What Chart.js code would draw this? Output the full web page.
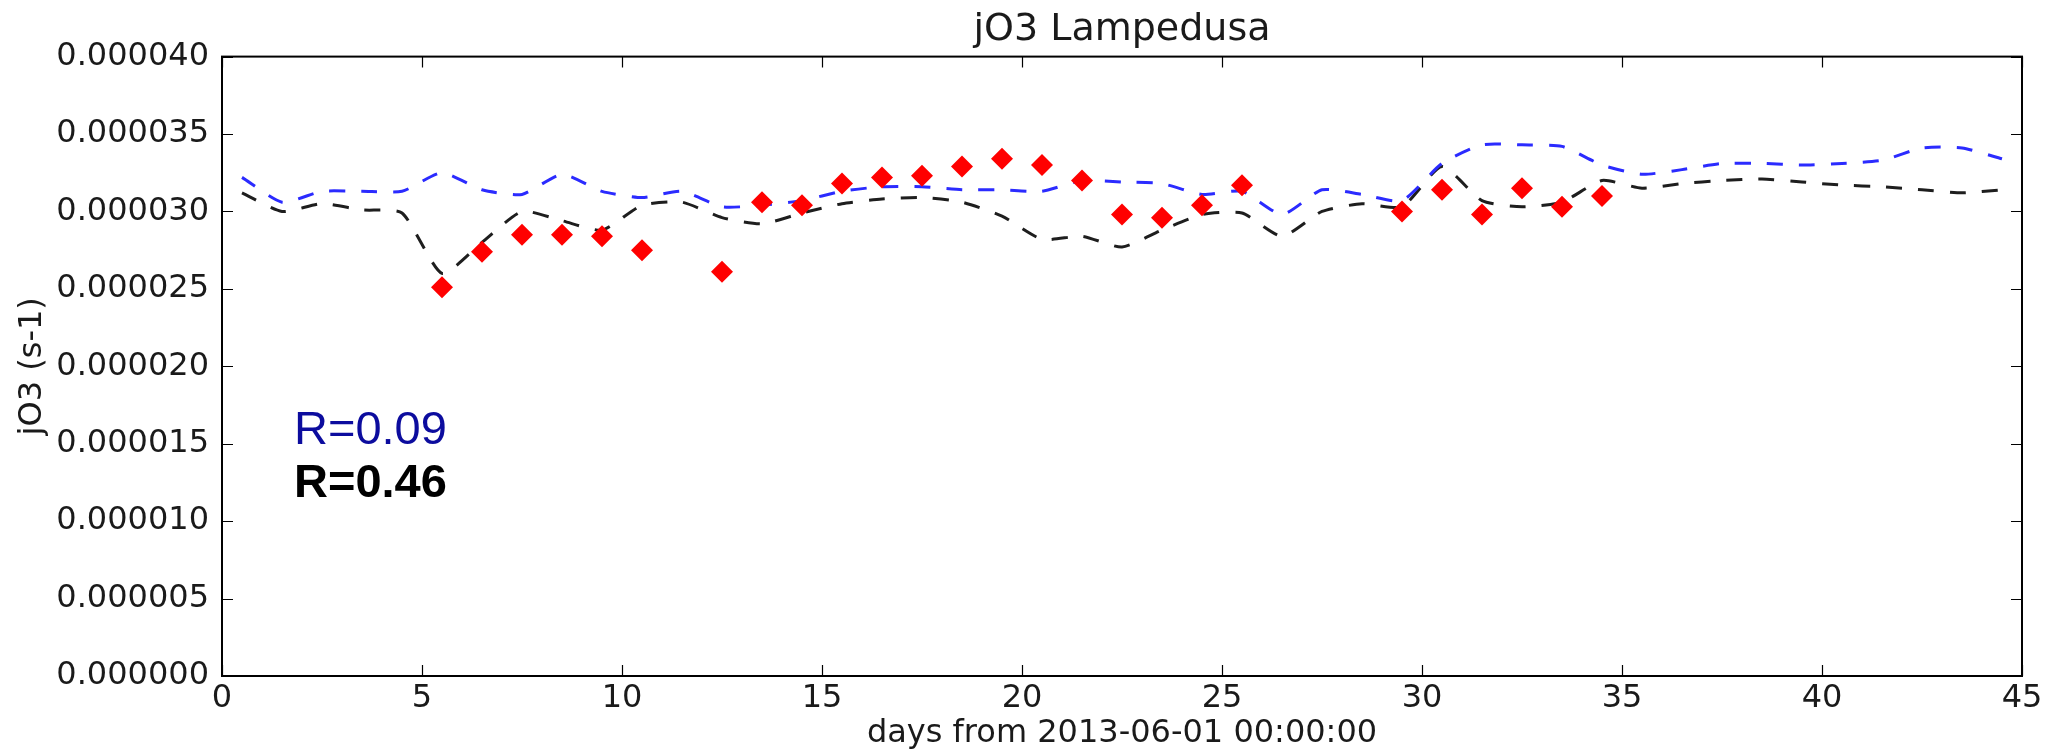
<!DOCTYPE html>
<html>
<head>
<meta charset="utf-8">
<title>jO3 Lampedusa</title>
<script src="https://cdn.jsdelivr.net/npm/chart.js@4.4.1/dist/chart.umd.min.js"></script>
<style>
  html, body { margin: 0; padding: 0; background: #fff; }
  #wrap { width: 2052px; height: 751px; }
</style>
</head>
<body>
<div id="wrap"><canvas id="jo3Chart" width="2052" height="751"></canvas></div>
<script>
// daily means, days counted from 2013-06-01 00:00:00
const modelDays = [0.5, 1.5, 2.5, 3.5, 4.5, 5.5, 6.5, 7.5, 8.5, 9.5,
    10.5, 11.5, 12.5, 13.5, 14.5, 15.5, 16.5, 17.5, 18.5, 19.5,
    20.5, 21.5, 22.5, 23.5, 24.5, 25.5, 26.5, 27.5, 28.5, 29.5,
    30.5, 31.5, 32.5, 33.5, 34.5, 35.5, 36.5, 37.5, 38.5, 39.5,
    40.5, 41.5, 42.5, 43.5, 44.5];

// blue dashed run (R=0.09)
const runBlue = [3.22e-5, 3.06e-5, 3.13e-5, 3.13e-5, 3.13e-5, 3.25e-5, 3.14e-5, 3.11e-5, 3.24e-5, 3.13e-5,
    3.09e-5, 3.13e-5, 3.03e-5, 3.04e-5, 3.07e-5, 3.13e-5, 3.16e-5, 3.16e-5, 3.14e-5, 3.14e-5,
    3.13e-5, 3.20e-5, 3.19e-5, 3.18e-5, 3.11e-5, 3.13e-5, 2.98e-5, 3.14e-5, 3.11e-5, 3.07e-5,
    3.31e-5, 3.43e-5, 3.43e-5, 3.42e-5, 3.30e-5, 3.24e-5, 3.27e-5, 3.31e-5, 3.31e-5, 3.30e-5,
    3.31e-5, 3.33e-5, 3.41e-5, 3.41e-5, 3.34e-5];

// black dashed run (R=0.46)
const runBlack = [3.12e-5, 3.00e-5, 3.05e-5, 3.01e-5, 2.99e-5, 2.60e-5, 2.80e-5, 3.00e-5, 2.94e-5, 2.88e-5,
    3.04e-5, 3.06e-5, 2.96e-5, 2.92e-5, 2.99e-5, 3.05e-5, 3.08e-5, 3.09e-5, 3.06e-5, 2.97e-5,
    2.82e-5, 2.84e-5, 2.77e-5, 2.88e-5, 2.98e-5, 2.99e-5, 2.84e-5, 3.00e-5, 3.05e-5, 3.03e-5,
    3.29e-5, 3.07e-5, 3.03e-5, 3.06e-5, 3.20e-5, 3.15e-5, 3.18e-5, 3.20e-5, 3.21e-5, 3.19e-5,
    3.17e-5, 3.16e-5, 3.14e-5, 3.12e-5, 3.14e-5];

// measured values (red diamonds)
const obsDays = [5.5, 6.5, 7.5, 8.5, 9.5, 10.5, 12.5, 13.5, 14.5, 15.5,
    16.5, 17.5, 18.5, 19.5, 20.5, 21.5, 22.5, 23.5, 24.5, 25.5,
    29.5, 30.5, 31.5, 32.5, 33.5, 34.5];
const obsValues = [2.51e-5, 2.74e-5, 2.85e-5, 2.85e-5, 2.84e-5, 2.75e-5, 2.61e-5, 3.06e-5, 3.04e-5, 3.18e-5,
    3.22e-5, 3.23e-5, 3.29e-5, 3.34e-5, 3.30e-5, 3.20e-5, 2.98e-5, 2.96e-5, 3.04e-5, 3.17e-5,
    3.00e-5, 3.14e-5, 2.98e-5, 3.15e-5, 3.03e-5, 3.10e-5];

const corrLabels = ["R=0.09", "R=0.46"];

const toPoints = (xs, ys) => xs.map((d, i) => ({ x: d, y: ys[i] }));

const tickFont = { family: "'DejaVu Sans', sans-serif", size: 32 };
const textColor = "#1a1a1a";

// matplotlib-style box: full frame with ticks pointing inward on all four sides
const boxFrame = {
    id: "boxFrame",
    afterDatasetsDraw(chart) {
        const { ctx, chartArea: a, scales: { x, y } } = chart;
        const len = 11;
        ctx.save();
        ctx.strokeStyle = "#000";
        ctx.lineWidth = 1.2;
        ctx.beginPath();
        x.ticks.forEach(t => {
            const px = Math.round(x.getPixelForValue(t.value)) + 0.5;
            ctx.moveTo(px, a.bottom); ctx.lineTo(px, a.bottom - len);
            ctx.moveTo(px, a.top); ctx.lineTo(px, a.top + len);
        });
        y.ticks.forEach(t => {
            const py = Math.round(y.getPixelForValue(t.value)) + 0.5;
            ctx.moveTo(a.left, py); ctx.lineTo(a.left + len, py);
            ctx.moveTo(a.right, py); ctx.lineTo(a.right - len, py);
        });
        ctx.stroke();
        ctx.lineWidth = 2;
        ctx.strokeRect(a.left, a.top, a.right - a.left, a.bottom - a.top);
        ctx.restore();
    }
};

// correlation coefficients written inside the axes
const corrText = {
    id: "corrText",
    afterDraw(chart) {
        const { ctx, scales: { x, y } } = chart;
        const px = x.getPixelForValue(1.8);
        ctx.save();
        ctx.textAlign = "left";
        ctx.textBaseline = "alphabetic";
        ctx.font = "47px 'Liberation Sans', Arial, sans-serif";
        ctx.fillStyle = "#0c0c9e";
        ctx.fillText(corrLabels[0], px, y.getPixelForValue(1.5e-5));
        ctx.font = "bold 47px 'Liberation Sans', Arial, sans-serif";
        ctx.fillStyle = "#000";
        ctx.fillText(corrLabels[1], px, y.getPixelForValue(1.155e-5));
        ctx.restore();
    }
};

new Chart(document.getElementById("jo3Chart").getContext("2d"), {
    type: "line",
    data: {
        datasets: [{
            label: "obs",
            data: toPoints(obsDays, obsValues),
            showLine: false,
            pointStyle: "rectRot",
            pointRadius: 11,
            pointBackgroundColor: "#ff0000",
            pointBorderWidth: 0
        }, {
            label: "run blue",
            data: toPoints(modelDays, runBlue),
            borderColor: "#2b2bff",
            borderWidth: 3,
            borderDash: [16, 16],
            pointRadius: 0,
            tension: 0.2,
            fill: false
        }, {
            label: "run black",
            data: toPoints(modelDays, runBlack),
            borderColor: "#1e1e1e",
            borderWidth: 3,
            borderDash: [16, 16],
            pointRadius: 0,
            tension: 0.2,
            fill: false
        }]
    },
    options: {
        responsive: false,
        animation: false,
        layout: { padding: { left: 0, right: 30, top: 0, bottom: 0 } },
        plugins: {
            legend: { display: false },
            tooltip: { enabled: false },
            title: {
                display: true,
                fullSize: false,
                text: "jO3 Lampedusa",
                color: textColor,
                font: { family: "'DejaVu Sans', sans-serif", size: 38, weight: "normal", lineHeight: 1.2 },
                padding: { top: 7, bottom: 4 }
            }
        },
        scales: {
            x: {
                type: "linear",
                min: 0,
                max: 45,
                grid: { display: false, drawTicks: false },
                border: { display: false },
                ticks: { stepSize: 5, padding: 3, color: textColor, font: tickFont, maxRotation: 0 },
                title: {
                    display: true,
                    text: "days from 2013-06-01 00:00:00",
                    color: textColor,
                    font: { family: "'DejaVu Sans', sans-serif", size: 32, lineHeight: 1.1 },
                    padding: { top: 0, bottom: 0 }
                },
                afterFit(scale) { scale.height = 75; }
            },
            y: {
                min: 0,
                max: 0.00004,
                grid: { display: false, drawTicks: false },
                border: { display: false },
                ticks: {
                    stepSize: 0.000005,
                    padding: 13,
                    color: textColor,
                    font: tickFont,
                    callback: v => v.toFixed(6)
                },
                title: {
                    display: true,
                    text: "jO3 (s-1)",
                    color: textColor,
                    font: { family: "'DejaVu Sans', sans-serif", size: 32, lineHeight: 1.2 },
                    padding: { top: 13, bottom: 0 }
                },
                afterFit(scale) { scale.width = 222; }
            }
        }
    },
    plugins: [boxFrame, corrText]
});
</script>
</body>
</html>
